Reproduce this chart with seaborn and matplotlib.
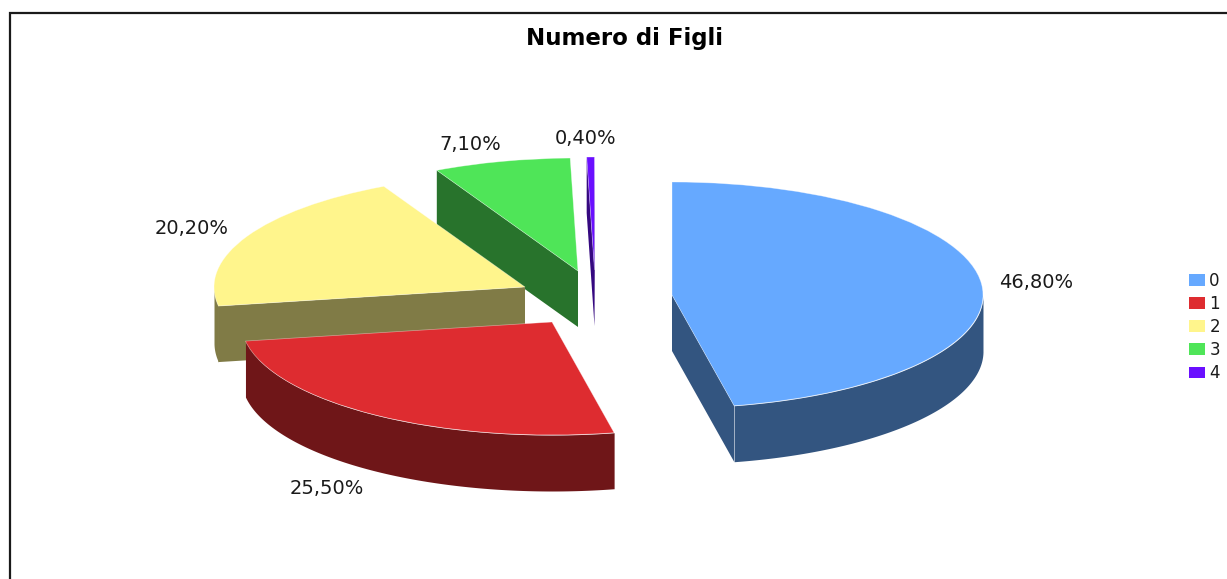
import numpy as np
import matplotlib
matplotlib.use('Agg')
import matplotlib.pyplot as plt
from matplotlib.patches import Patch, Polygon
import seaborn as sns

# Dati del grafico
categorie = ['0', '1', '2', '3', '4']
percentuali = [46.8, 25.5, 20.2, 7.1, 0.4]
colori = ['#66A9FF', '#DE2C30', '#FFF58C', '#4FE558', '#6A0FFF']
titolo = 'Numero di Figli'

# Layout in pixel: centro di ogni fetta e posizione delle etichette
W, H = 1227, 579
RX, RY, SPESSORE = 311, 113, 56
centri = [(672, 295), (552, 322), (525, 287), (578, 271), (594.5, 270)]
pos_etichette = [(1036, 282), (327, 489), (192, 229), (470, 145), (586, 139)]

sns.set_theme(style='white')
plt.rcParams['font.family'] = ['DejaVu Sans']

fig = plt.figure(figsize=(W / 100, H / 100), dpi=100)
ax = fig.add_axes([0, 0, 1, 1])


def px(x, y):
    # da pixel dell'immagine a coordinate dati (raggio unitario)
    return x / RX, (H - y) / RY


wedges, _ = ax.pie(percentuali, colors=colori, startangle=90, counterclock=False)
ax.set_aspect('auto')
ax.set_xlim(0, W / RX)
ax.set_ylim(0, H / RY)
dz = SPESSORE / RY

# Si disegna dalla fetta piu lontana alla piu vicina
for i in range(len(wedges) - 1, -1, -1):
    w = wedges[i]
    cx, cy = px(*centri[i])
    w.set_center((cx, cy))
    w.set_edgecolor((1, 1, 1, 0.45))
    w.set_linewidth(0.5)
    z = 10 + (len(wedges) - i) * 3
    w.set_zorder(z + 1)
    scuro = tuple(c * 0.5 for c in matplotlib.colors.to_rgb(colori[i]))

    # parete esterna: solo la parte davanti dell'arco
    a1, a2 = w.theta1, w.theta2
    t = np.radians(np.linspace(a1, a2, 200))
    davanti = np.sin(t) <= 0
    if davanti.any():
        ax.fill_between(cx + np.cos(t), cy + np.sin(t), cy + np.sin(t) - dz,
                        where=davanti, color=scuro, lw=0, zorder=z)

    # pareti radiali visibili
    for ang, segno in ((a1, 1), (a2, -1)):
        c, s = np.cos(np.radians(ang)), np.sin(np.radians(ang))
        if segno * c > 1e-9:
            ax.add_patch(Polygon([(cx, cy), (cx + c, cy + s),
                                  (cx + c, cy + s - dz), (cx, cy - dz)],
                                 closed=True, facecolor=scuro, edgecolor='none',
                                 zorder=z))

# Etichette percentuali
for v, (x, y) in zip(percentuali, pos_etichette):
    testo = f'{v:.2f}%'.replace('.', ',')
    ax.text(*px(x, y), testo, ha='center', va='center', fontsize=14,
            color='#1a1a1a', zorder=50)

ax.text(*px(625, 39), titolo, ha='center', va='center', fontsize=16.5,
        fontweight='bold', color='black', zorder=50)

# Legenda
handles = [Patch(facecolor=c, edgecolor='none') for c in colori]
ax.legend(handles, categorie, loc='center left', bbox_to_anchor=(1186 / W, 1 - 327 / H),
          frameon=False, fontsize=12, handlelength=0.95, handleheight=0.72,
          handletextpad=0.25, labelspacing=0.31, labelcolor='#1a1a1a',
          borderpad=0.0, borderaxespad=0.2)

# Cornice: solo lato sinistro e superiore entrano nell'immagine
ax.plot(*zip(px(10, H), px(10, 13), px(W, 13)), color='#1a1a1a', lw=1.6,
        solid_joinstyle='miter', zorder=60)

fig.savefig('out.png', dpi=100)
